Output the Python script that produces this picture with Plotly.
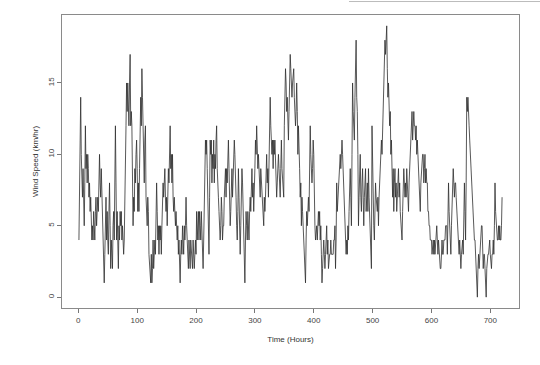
import plotly.graph_objects as go

# Hourly wind speed (km/hr), hours 1..720
hours = list(range(1, 721))

wind_days_01_05 = [
    4, 7, 11, 14, 10, 8, 7, 9, 6, 5, 8, 12, 9, 10, 8, 10, 9, 7, 8, 6, 7, 5, 4, 5,
    4, 6, 5, 4, 6, 7, 5, 6, 7, 6, 8, 10, 8, 7, 9, 7, 6, 4, 3, 1, 3, 5, 7, 4,
    6, 4, 3, 6, 8, 5, 2, 4, 3, 2, 5, 6, 4, 7, 12, 8, 4, 6, 3, 2, 5, 4, 6, 5,
    6, 4, 5, 4, 3, 4, 6, 10, 12, 15, 13, 15, 14, 12, 15, 17, 12, 13, 12, 9, 5, 7, 6, 9,
    8, 10, 11, 9, 6, 8, 6, 9, 13, 14, 12, 16, 14, 12, 10, 8, 11, 12, 7, 6, 5, 7, 6, 3,
]
wind_days_06_10 = [
    2, 2, 1, 3, 1, 2, 4, 2, 3, 4, 3, 5, 8, 6, 4, 5, 3, 5, 4, 5, 3, 5, 6, 8,
    7, 8, 9, 7, 6, 7, 5, 7, 9, 8, 10, 12, 9, 10, 8, 10, 7, 6, 7, 6, 5, 6, 5, 4,
    5, 3, 4, 2, 1, 3, 4, 3, 5, 4, 3, 5, 4, 5, 7, 5, 4, 2, 2, 4, 3, 2, 4, 3,
    3, 2, 4, 3, 2, 3, 4, 3, 6, 4, 5, 6, 4, 6, 5, 4, 6, 4, 3, 2, 4, 6, 9, 11,
    10, 11, 9, 6, 4, 3, 7, 11, 10, 11, 8, 10, 9, 11, 8, 10, 9, 11, 12, 9, 7, 7, 6, 5,
]
wind_days_11_15 = [
    4, 5, 7, 6, 4, 5, 5, 7, 8, 9, 7, 9, 8, 10, 11, 9, 7, 5, 6, 8, 9, 7, 9, 11,
    11, 10, 9, 7, 5, 4, 6, 9, 7, 5, 3, 5, 7, 9, 8, 6, 6, 3, 1, 4, 6, 5, 4, 6,
    5, 4, 6, 7, 6, 8, 9, 7, 8, 6, 7, 9, 11, 10, 12, 11, 9, 10, 9, 8, 7, 9, 8, 8,
    7, 6, 5, 7, 6, 7, 9, 10, 8, 9, 7, 10, 12, 14, 12, 11, 10, 11, 9, 11, 10, 11, 10, 9,
    7, 8, 10, 10, 9, 8, 7, 9, 11, 9, 8, 7, 7, 12, 14, 16, 15, 13, 14, 12, 11, 13, 15, 17,
]
wind_days_16_20 = [
    16, 15, 14, 15, 16, 16, 14, 13, 12, 13, 15, 13, 10, 12, 11, 9, 7, 8, 5, 7, 6, 5, 4, 3,
    2, 1, 4, 6, 5, 6, 7, 6, 9, 12, 10, 9, 8, 9, 11, 10, 6, 5, 4, 5, 5, 4, 6, 6,
    5, 6, 4, 5, 3, 1, 2, 3, 4, 3, 2, 3, 4, 5, 3, 4, 2, 3, 3, 3, 4, 3, 3, 3,
    3, 4, 4, 5, 2, 4, 8, 6, 7, 7, 8, 9, 10, 9, 11, 11, 10, 9, 8, 7, 6, 5, 3, 4,
    3, 5, 4, 6, 7, 9, 7, 5, 10, 15, 13, 12, 11, 14, 16, 18, 14, 13, 10, 5, 7, 8, 10, 7,
]
wind_days_21_25 = [
    6, 8, 9, 7, 5, 7, 8, 9, 6, 7, 8, 6, 9, 7, 6, 5, 3, 2, 12, 8, 6, 5, 4, 6,
    8, 7, 6, 6, 7, 5, 7, 8, 9, 10, 11, 10, 12, 13, 14, 16, 18, 17, 19, 19, 16, 14, 15, 13,
    12, 13, 10, 11, 8, 7, 9, 6, 8, 9, 7, 8, 6, 7, 8, 9, 7, 8, 6, 5, 4, 4, 6, 8,
    9, 8, 7, 8, 7, 9, 8, 7, 6, 8, 9, 10, 11, 12, 13, 11, 12, 13, 12, 12, 11, 12, 10, 11,
    10, 9, 8, 7, 6, 8, 9, 9, 10, 10, 8, 9, 10, 8, 9, 8, 8, 6, 6, 5, 5, 4, 4, 4,
]
wind_days_26_30 = [
    3, 4, 4, 3, 4, 3, 4, 4, 5, 4, 3, 4, 3, 3, 2, 2, 3, 4, 3, 3, 4, 4, 4, 5,
    5, 5, 3, 6, 8, 6, 5, 4, 3, 5, 6, 8, 9, 8, 7, 8, 8, 7, 6, 5, 4, 4, 3, 4,
    3, 2, 3, 4, 4, 3, 5, 8, 6, 4, 8, 14, 13, 14, 12, 12, 11, 10, 9, 8, 7, 7, 6, 5,
    4, 4, 3, 1, 0, 0, 2, 3, 2, 3, 4, 4, 5, 5, 3, 2, 3, 3, 2, 0, 0, 2, 3, 3,
    3, 4, 4, 3, 2, 2, 3, 3, 4, 3, 5, 8, 6, 5, 4, 4, 4, 5, 4, 5, 4, 4, 5, 7,
]

wind = (wind_days_01_05 + wind_days_06_10 + wind_days_11_15
        + wind_days_16_20 + wind_days_21_25 + wind_days_26_30)

x_tick_vals = [0, 100, 200, 300, 400, 500, 600, 700]
y_tick_vals = [0, 5, 10, 15]

FONT = "Liberation Sans, Arial, Helvetica, sans-serif"

fig = go.Figure(
    go.Scatter(
        x=hours, y=wind, mode="lines",
        line=dict(color="#2e2e2e", width=0.8),
        hoverinfo="skip",
    )
)

fig.update_layout(
    width=540, height=365, autosize=False,
    margin=dict(l=62, r=21, t=15, b=57),
    paper_bgcolor="white", plot_bgcolor="white",
    showlegend=False,
    font=dict(family=FONT, size=8, color="#333333"),
)

fig.update_xaxes(
    range=[-27.76, 748.76], tickmode="array", tickvals=x_tick_vals,
    ticks="outside", ticklen=4, tickwidth=1, tickcolor="#777777",
    showline=True, linecolor="#8a8a8a", linewidth=1, mirror=True,
    showgrid=False, zeroline=False, automargin=False,
    tickfont=dict(size=8, color="#444444"),
    title=dict(text="Time (Hours)", standoff=12, font=dict(size=8, color="#333333")),
)
fig.update_yaxes(
    range=[-0.76, 19.76], tickmode="array", tickvals=y_tick_vals,
    tickangle=-90,
    ticks="outside", ticklen=4, tickwidth=1, tickcolor="#777777",
    showline=True, linecolor="#8a8a8a", linewidth=1, mirror=True,
    showgrid=False, zeroline=False, automargin=False,
    tickfont=dict(size=8, color="#444444"),
    title=dict(text="Wind Speed (km/hr)", standoff=6, font=dict(size=8, color="#333333")),
)

# thin grey edge visible at the very top of the reference screenshot
fig.add_shape(type="line", xref="paper", yref="paper",
              x0=0.628, x1=1.05, y0=1.046, y1=1.046,
              line=dict(color="#bbbbbb", width=1))

fig.write_html(
    "out.html",
    config={"displayModeBar": False, "staticPlot": True},
    post_script="document.body.style.margin='0';document.body.style.padding='0';",
)
